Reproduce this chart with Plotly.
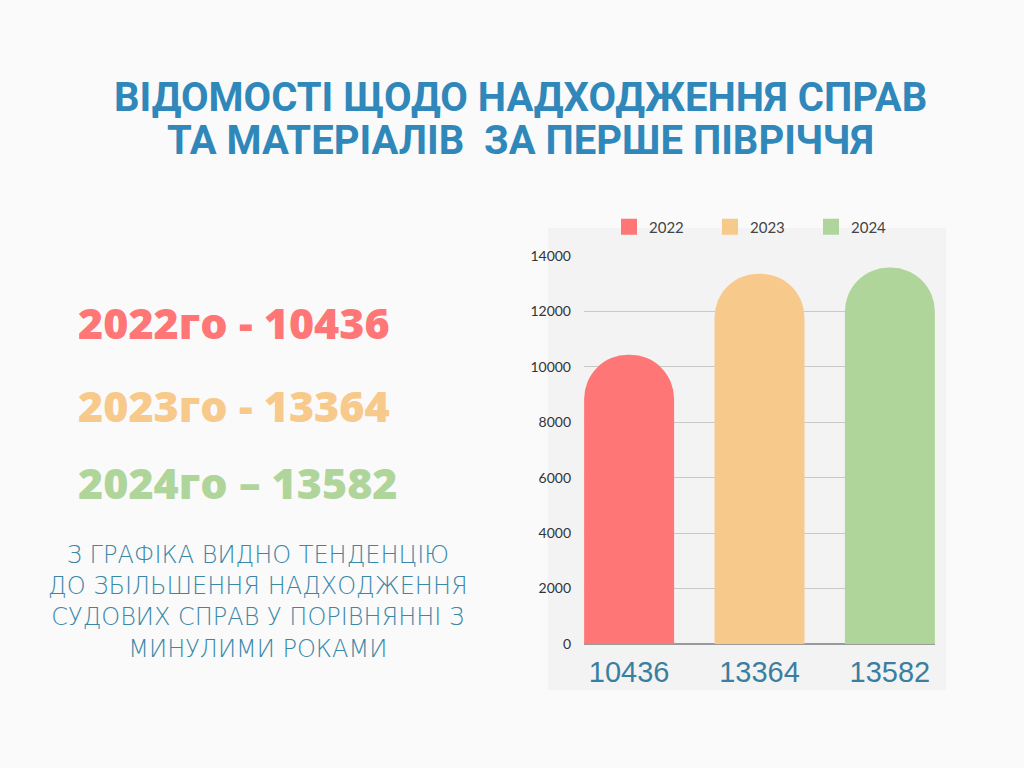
import plotly.graph_objects as go

years = ["2022", "2023", "2024"]
values = [10436, 13364, 13582]
x_labels = ["10436", "13364", "13582"]
colors = ["#ff7676", "#f7c98b", "#b0d59b"]
y_ticks = [0, 2000, 4000, 6000, 8000, 10000, 12000, 14000]

title_lines = ["ВІДОМОСТІ ЩОДО НАДХОДЖЕННЯ СПРАВ", "ТА МАТЕРІАЛІВ  ЗА ПЕРШЕ ПІВРІЧЧЯ"]
left_lines = ["2022го - 10436", "2023го - 13364", "2024го – 13582"]
paragraph = ["З ГРАФІКА ВИДНО ТЕНДЕНЦІЮ", "ДО ЗБІЛЬШЕННЯ НАДХОДЖЕННЯ",
             "СУДОВИХ СПРАВ У ПОРІВНЯННІ З", "МИНУЛИМИ РОКАМИ"]

fig = go.Figure()
for yr, lab, v, c in zip(years, x_labels, values, colors):
    fig.add_trace(go.Bar(x=[lab], y=[v], name=yr, width=0.69, showlegend=False,
                         marker=dict(color=c, cornerradius="50%", line=dict(width=0))))
# legend-only entries with square symbols
for yr, c in zip(years, colors):
    fig.add_trace(go.Scatter(x=[None], y=[None], mode="markers", name=yr,
                             marker=dict(symbol="square", size=16, color=c)))

W, H = 1024, 768
L, R, T, B = 584, 935, 256, 644
pw, ph = R - L, B - T

def px(x):
    return (x - L) / pw

def py(y):
    return (B - y) / ph

shapes = [dict(type="rect", xref="paper", yref="paper", x0=px(548), x1=px(946),
               y0=py(690), y1=py(228), fillcolor="#f3f3f3", line=dict(width=0), layer="below")]

ann = []
for i, t in enumerate(title_lines):
    ann.append(dict(text="<b>" + t + "</b>", xref="paper", yref="paper", x=px(520), y=py([98, 141][i]),
                    showarrow=False, xanchor="center", yanchor="middle",
                    font=dict(family="Roboto", size=40, color="#2f88b9", weight=900)))
for i, t in enumerate(left_lines):
    ann.append(dict(text=t, xref="paper", yref="paper", x=px(76), y=py([322, 405, 482][i]),
                    showarrow=False, xanchor="left", yanchor="middle",
                    font=dict(family="Open Sans", size=43, color=colors[i], weight=800)))
ann.append(dict(text="<br>".join(paragraph), xref="paper", yref="paper", x=px(258), y=py(602),
                showarrow=False, xanchor="center", yanchor="middle", align="center",
                font=dict(family="DejaVu Sans", size=24, color="#3a88a8", weight=200)))

fig.update_layout(
    width=W, height=H,
    margin=dict(l=L, r=W - R, t=T, b=H - B, pad=0),
    paper_bgcolor="#fafafa", plot_bgcolor="rgba(0,0,0,0)",
    barmode="overlay",
    showlegend=True,
    legend=dict(orientation="h", x=px(609), y=py(227), xanchor="left", yanchor="middle",
                font=dict(family="Lato", size=15, color="#444444"), bgcolor="rgba(0,0,0,0)",
                entrywidth=56, entrywidthmode="pixels", itemsizing="trace", traceorder="normal"),
    xaxis=dict(type="category", range=[-0.346, 2.346], showgrid=False, ticks="",
               tickfont=dict(family="Liberation Sans", size=29, color="#3a7fa0"),
               showline=False, zeroline=False, ticklabelstandoff=8),
    yaxis=dict(range=[0, 14000], tickvals=y_ticks, tickformat="d", showgrid=True, gridcolor="#c8c8c8",
               gridwidth=1, zeroline=True, zerolinecolor="#9a9a9a", zerolinewidth=2,
               tickfont=dict(family="Lato", size=14, color="#333333"), ticks="", ticklabelstandoff=12),
    shapes=shapes, annotations=ann,
)
fig.write_html("out.html")
